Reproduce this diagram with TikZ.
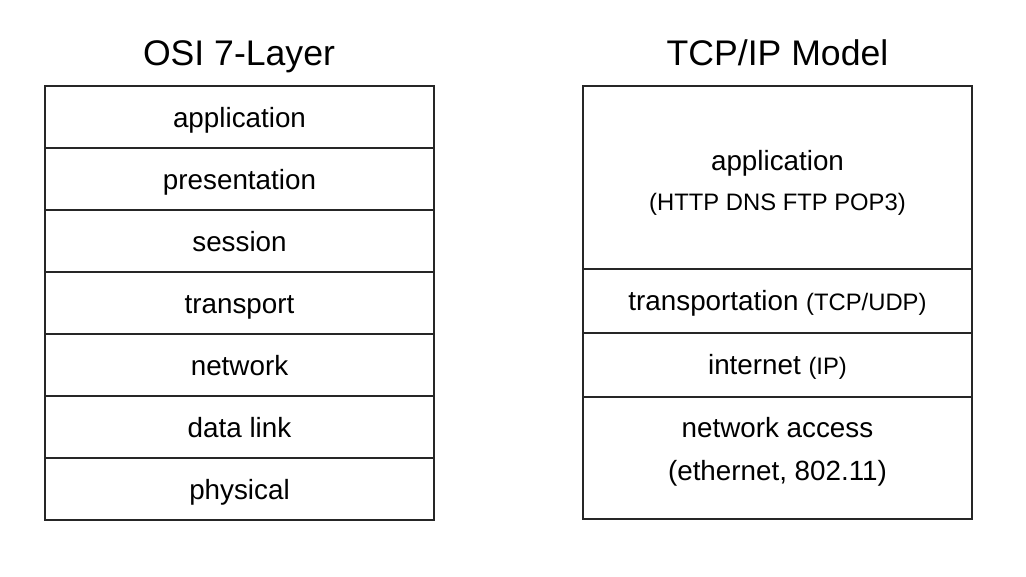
\documentclass[tikz,border=0pt]{standalone}
\usepackage{fontspec}
\setmainfont{Liberation Sans}
\begin{document}
\begin{tikzpicture}[x=1pt,y=-1pt,
  cell/.style={draw=black!85, line width=1.3pt, minimum width=389pt, inner sep=0, outer sep=0},
  lbl/.style={font=\fontsize{27.8}{33}\selectfont, anchor=base, inner sep=0},
  ttl/.style={font=\fontsize{35.6}{42}\selectfont, anchor=base, inner sep=0}]
\newcommand{\smtxt}[1]{{\fontsize{23.8}{28}\selectfont #1}}
\useasboundingbox (0,0) rectangle (1026,576);
% OSI
\node[ttl] (osititle) at (239,65.5) {OSI 7-Layer};
\foreach \i/\t in {0/application,1/presentation,2/session,3/transport,4/network,5/data link,6/physical}{
  \node[cell, minimum height=62pt] (osi\i) at (239.5,{117+62*\i}) {};
  \node[lbl] (osit\i) at ({239.5},{127+62*\i}) {\t};
}
% TCP/IP
\node[ttl] (tcptitle) at (777.5,65.5) {TCP/IP Model};
\node[cell, minimum height=183pt] (app) at (777.5,177.5) {};
\node[cell, minimum height=64pt] (trans) at (777.5,301) {};
\node[cell, minimum height=64pt] (inet) at (777.5,365) {};
\node[cell, minimum height=122pt] (netacc) at (777.5,458) {};
\node[lbl] (appt) at (777.5,170.5) {application};
\node[lbl] (appp) at (777.5,210.5) {\smtxt{(HTTP DNS FTP POP3)}};
\node[lbl] (transt) at (777.5,310.5) {transportation \smtxt{(TCP/UDP)}};
\node[lbl] (inett) at (777.5,374) {internet \smtxt{(IP)}};
\node[lbl] (nett) at (777.5,437.5) {network access};
\node[lbl] (netp) at (777.5,480.5) {(ethernet, 802.11)};
\end{tikzpicture}
\end{document}
